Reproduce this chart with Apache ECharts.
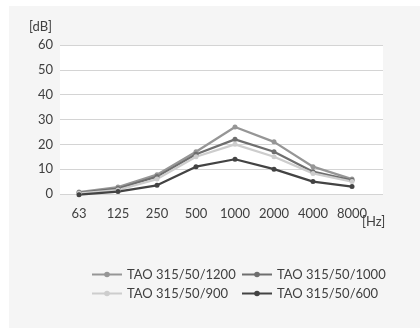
<!DOCTYPE html>
<html>
<head>
<meta charset="utf-8">
<script src="https://cdn.jsdelivr.net/npm/echarts@6/dist/echarts.min.js"></script>
<style>html,body{margin:0;padding:0;background:#fff}#c{width:420px;height:329px}</style>
</head>
<body>
<div id="c"></div>
<script>
var categories = ['63', '125', '250', '500', '1000', '2000', '4000', '8000'];
var yTicks = [0, 10, 20, 30, 40, 50, 60];
var seriesNames = ['TAO 315/50/1200', 'TAO 315/50/1000', 'TAO 315/50/900', 'TAO 315/50/600'];
var tao1200 = [0.8, 2.8, 7.8, 17, 27, 21, 11, 6];
var tao1000 = [0.5, 2.2, 7, 16, 22, 17, 9, 5.5];
var tao900 = [0.3, 1.6, 6, 15, 20, 15, 8.3, 5];
var tao600 = [-0.3, 1, 3.5, 11, 14, 10, 5, 3];

var colors = ['#969696', '#6e6e6e', '#cdcdcd', '#434343'];
var values = [tao1200, tao1000, tao900, tao600];
var FONT = 'Lato';
var TXT = '#404040';

var chart = echarts.init(document.getElementById('c'), null, {renderer: 'canvas'});
var series = values.map(function (v, i) {
  return {
    name: seriesNames[i],
    type: 'line',
    xAxisIndex: 1,
    yAxisIndex: 1,
    data: v,
    symbol: 'circle',
    symbolSize: 5,
    clip: false,
    color: colors[i],
    lineStyle: {width: 2.25, color: colors[i]},
    itemStyle: {color: colors[i]},
    emphasis: {disabled: true},
    z: 5
  };
});

var legendCommon = {
  orient: 'vertical', top: 262,
  itemWidth: 30, itemHeight: 7, itemGap: 4,
  textStyle: {color: TXT, fontSize: 13, fontFamily: FONT, lineHeight: 15}
};

chart.setOption({
  animation: false,
  backgroundColor: '#ffffff',
  textStyle: {fontFamily: FONT},
  graphic: [
    {type: 'rect', shape: {x: 9, y: 6, width: 411, height: 322}, style: {fill: '#f5f5f5'}, z: -10},
    {type: 'text', x: 29, y: 27, style: {text: '[dB]', font: '13px ' + FONT, fill: TXT, textVerticalAlign: 'middle'}},
    {type: 'text', x: 362, y: 222, style: {text: '[Hz]', font: '13px ' + FONT, fill: TXT, textVerticalAlign: 'middle'}}
  ],
  grid: [
    {left: 60, top: 45, width: 323, height: 149, show: true, backgroundColor: '#ffffff', borderWidth: 0, containLabel: false},
    {left: 59.5, top: 45, width: 312, height: 149, containLabel: false}
  ],
  xAxis: [
    {gridIndex: 0, type: 'value', min: 0, max: 1, show: false},
    {
      gridIndex: 1, type: 'category', data: categories, boundaryGap: true,
      axisLine: {show: false}, axisTick: {show: false},
      axisLabel: {color: TXT, fontSize: 13, fontFamily: FONT, margin: 13, interval: 0}
    }
  ],
  yAxis: [
    {
      gridIndex: 0, type: 'value', min: yTicks[0], max: yTicks[yTicks.length - 1], interval: 10,
      axisLine: {show: false}, axisTick: {show: false},
      axisLabel: {color: TXT, fontSize: 13, fontFamily: FONT, margin: 7},
      splitLine: {show: true, lineStyle: {color: '#d4d4d4', width: 1}}
    },
    {gridIndex: 1, type: 'value', min: 0, max: 60, interval: 10, show: false, splitLine: {show: false}}
  ],
  legend: [
    Object.assign({data: [seriesNames[0], seriesNames[2]], left: 86}, legendCommon),
    Object.assign({data: [seriesNames[1], seriesNames[3]], left: 236}, legendCommon)
  ],
  series: series
});
</script>
</body>
</html>
